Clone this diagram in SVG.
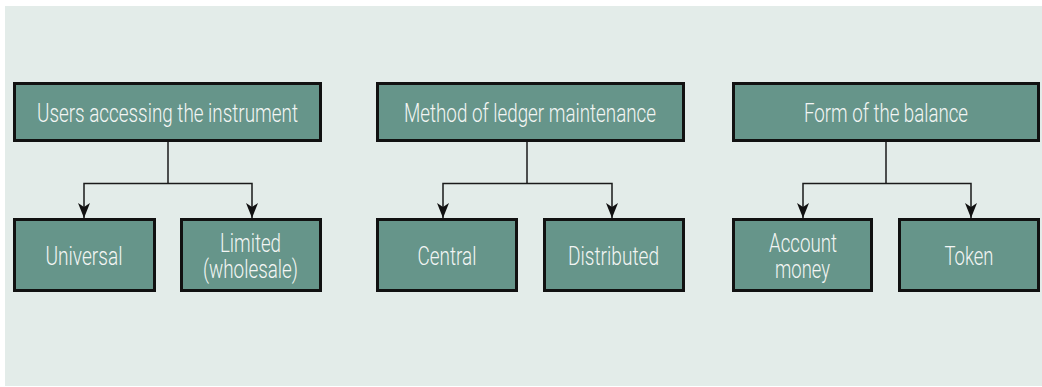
<svg xmlns="http://www.w3.org/2000/svg" width="1042" height="387" viewBox="0 0 1042 387">
  <style>
    .box { fill: #66958a; stroke: #111; stroke-width: 3; }
    .lbl { fill: #f3f5f4; font-family: Roboto, "Liberation Sans Narrow", "Liberation Sans", sans-serif; font-weight: 300; font-size: 25px; text-anchor: middle; }
    .conn { fill: none; stroke: #1a1a1a; stroke-width: 1.5; }
    .head { fill: #111; }
  </style>
  <rect x="5" y="6" width="1037" height="380" fill="#e3ece9"/>

  <g id="connectors">
    <path class="conn" d="M168,142 V183.5"/>
    <path class="conn" d="M84,218 V183.5 H252 V218"/>
    <path class="conn" d="M527,142 V183.5"/>
    <path class="conn" d="M443,218 V183.5 H612 V218"/>
    <path class="conn" d="M886,142 V183.5"/>
    <path class="conn" d="M803,218 V183.5 H971 V218"/>
    <path class="head" d="M84,218 L78,203 L84,207 L90,203 Z"/>
    <path class="head" d="M252,218 L246,203 L252,207 L258,203 Z"/>
    <path class="head" d="M443,218 L437,203 L443,207 L449,203 Z"/>
    <path class="head" d="M612,218 L606,203 L612,207 L618,203 Z"/>
    <path class="head" d="M803,218 L797,203 L803,207 L809,203 Z"/>
    <path class="head" d="M971,218 L965,203 L971,207 L977,203 Z"/>
  </g>

  <g id="users">
    <rect class="box" x="14.5" y="83.5" width="306" height="57"/>
    <text class="lbl" x="167.5" y="122" textLength="261" lengthAdjust="spacingAndGlyphs">Users accessing the instrument</text>
  </g>
  <g id="ledger">
    <rect class="box" x="377.5" y="83.5" width="306" height="57"/>
    <text class="lbl" x="530" y="122" textLength="252" lengthAdjust="spacingAndGlyphs">Method of ledger maintenance</text>
  </g>
  <g id="form">
    <rect class="box" x="733.5" y="83.5" width="305" height="57"/>
    <text class="lbl" x="886" y="122" textLength="164" lengthAdjust="spacingAndGlyphs">Form of the balance</text>
  </g>

  <g id="universal">
    <rect class="box" x="14.5" y="219.5" width="140" height="71"/>
    <text class="lbl" x="84" y="265" textLength="77" lengthAdjust="spacingAndGlyphs">Universal</text>
  </g>
  <g id="limited">
    <rect class="box" x="181.5" y="219.5" width="139" height="71"/>
    <text class="lbl"><tspan x="250.5" y="252" textLength="61" lengthAdjust="spacingAndGlyphs">Limited</tspan><tspan x="250.5" y="278" textLength="95" lengthAdjust="spacingAndGlyphs">(wholesale)</tspan></text>
  </g>
  <g id="central">
    <rect class="box" x="377.5" y="219.5" width="139" height="71"/>
    <text class="lbl" x="447" y="264.5" textLength="59" lengthAdjust="spacingAndGlyphs">Central</text>
  </g>
  <g id="distributed">
    <rect class="box" x="544.5" y="219.5" width="139" height="71"/>
    <text class="lbl" x="613.5" y="264.5" textLength="91" lengthAdjust="spacingAndGlyphs">Distributed</text>
  </g>
  <g id="account">
    <rect class="box" x="733.5" y="219.5" width="138" height="71"/>
    <text class="lbl"><tspan x="803" y="252" textLength="68" lengthAdjust="spacingAndGlyphs">Account</tspan><tspan x="802.5" y="278" textLength="55" lengthAdjust="spacingAndGlyphs">money</tspan></text>
  </g>
  <g id="token">
    <rect class="box" x="899.5" y="219.5" width="139" height="71"/>
    <text class="lbl" x="969" y="264.5" textLength="49" lengthAdjust="spacingAndGlyphs">Token</text>
  </g>
</svg>
